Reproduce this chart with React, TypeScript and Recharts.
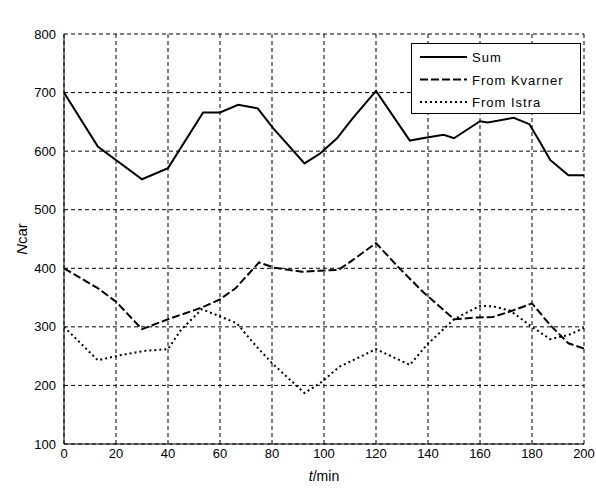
import React from "react";
import { LineChart, Line, XAxis, YAxis, CartesianGrid, Legend } from "recharts";

const FONT = '"Liberation Sans", Arial, Helvetica, sans-serif';

const xTicks = [0, 20, 40, 60, 80, 100, 120, 140, 160, 180, 200];
const yTicks = [100, 200, 300, 400, 500, 600, 700, 800];

// t/min values where each line bends
const sumTime = [0, 13, 30, 40, 53.5, 60, 67, 74.5, 80.5, 92.5, 98.5, 105, 111, 120, 133, 139, 146, 150, 160, 163, 173, 179, 183, 187, 194, 200];
const sumValues = [700, 608, 552, 571, 666, 666, 679, 673, 639, 579, 596, 622, 656, 703, 618, 623, 628, 622, 651, 649, 657, 646, 616, 585, 559, 559];

const kvarnerTime = [0, 13, 20, 30, 40, 53, 60, 66, 75, 81, 91.5, 98.5, 105.5, 111, 120, 129, 138, 150, 159, 165, 171.5, 180, 187, 194, 200];
const kvarnerValues = [400, 366, 343, 296, 313, 333, 347, 366, 410, 401, 394, 396, 397, 414, 443, 400, 360, 313, 316, 317, 326, 340, 303, 272, 263];

const istraTime = [0, 13, 22, 31, 40, 45, 53, 60.5, 66.5, 73.5, 80, 92.5, 98.5, 106, 120, 133, 139.5, 150, 160, 165, 171.5, 180, 187, 194, 200];
const istraValues = [300, 243, 252, 259, 262, 295, 330, 317, 306, 269, 238, 187, 204, 232, 262, 235, 269, 313, 336, 335, 328, 300, 279, 286, 298];

const toPoints = (time: number[], values: number[]) => time.map((t, i) => ({ t, v: values[i] }));

const series = [
  { name: "Sum", data: toPoints(sumTime, sumValues), dash: undefined as string | undefined },
  { name: "From Kvarner", data: toPoints(kvarnerTime, kvarnerValues), dash: "8 3" },
  { name: "From Istra", data: toPoints(istraTime, istraValues), dash: "2 3" },
];

function LegendBox() {
  return (
    <div
      style={{
        width: 170,
        height: 71,
        boxSizing: "border-box",
        border: "1px solid #000",
        background: "#fff",
      }}
    >
      <svg width={168} height={69} style={{ display: "block" }}>
        {series.map((s, i) => {
          const y = 13 + i * 22.5;
          return (
            <g key={s.name}>
              <line x1={8} x2={55} y1={y} y2={y} stroke="#000" strokeWidth={2} strokeDasharray={s.dash} />
              <text x={60} y={y + 5} fontFamily={FONT} fontSize={13} letterSpacing={1} fill="#000">
                {s.name}
              </text>
            </g>
          );
        })}
      </svg>
    </div>
  );
}

const tickStyle = { fontFamily: FONT, fontSize: 13, fill: "#000" };

export default function App() {
  return (
    <div style={{ position: "absolute", left: 0, top: 0, width: 596, height: 488, background: "#fff" }}>
      <LineChart width={596} height={488} margin={{ top: 34, right: 12, bottom: 14, left: 8 }}>
        <CartesianGrid stroke="#000" strokeDasharray="4 3" strokeWidth={1} />
        <XAxis
          dataKey="t"
          type="number"
          domain={[0, 200]}
          ticks={xTicks}
          allowDataOverflow
          height={30}
          stroke="#000"
          tickLine={false}
          tickSize={2}
          tickMargin={3}
          tick={tickStyle}
          label={{
            content: (props: any) => {
              const vb = props.viewBox;
              return (
                <text x={vb.x + vb.width / 2} y={vb.y + 37} textAnchor="middle" fontFamily={FONT} fontSize={14} fill="#000">
                  <tspan fontStyle="italic">t</tspan>/min
                </text>
              );
            },
          }}
        />
        <XAxis
          xAxisId="top"
          orientation="top"
          type="number"
          domain={[0, 200]}
          height={0}
          tick={false}
          tickLine={false}
          stroke="#000"
          label={{
            content: (props: any) => {
              const vb = props.viewBox;
              return (
                <text x={vb.x + vb.width / 2 - 1} y={vb.y - 15} textAnchor="middle" fontFamily={FONT} fontSize={13} letterSpacing={1} fill="#000">
                  Number of vehicles per hour
                </text>
              );
            },
          }}
        />
        <YAxis
          type="number"
          domain={[100, 800]}
          ticks={yTicks}
          allowDataOverflow
          width={56}
          stroke="#000"
          tickLine={false}
          tickSize={4}
          tickMargin={4}
          tick={tickStyle}
          label={{
            content: (props: any) => {
              const vb = props.viewBox;
              const cx = vb.x + 13;
              const cy = vb.y + vb.height / 2;
              return (
                <text
                  x={cx}
                  y={cy}
                  transform={`rotate(-90 ${cx} ${cy})`}
                  textAnchor="middle"
                  dominantBaseline="central"
                  fontFamily={FONT}
                  fontSize={15}
                  fill="#000"
                >
                  <tspan fontStyle="italic">N</tspan>car
                </text>
              );
            },
          }}
        />
        <YAxis yAxisId="right" orientation="right" type="number" domain={[100, 800]} width={0} tick={false} tickLine={false} stroke="#000" />
        <Legend
          layout="horizontal"
          verticalAlign="middle"
          align="center"
          wrapperStyle={{ left: 411, top: 43, width: 170, height: 71 }}
          content={() => <LegendBox />}
        />
        {series.map((s) => (
          <Line
            key={s.name}
            data={s.data}
            dataKey="v"
            name={s.name}
            type="linear"
            stroke="#000"
            strokeWidth={2}
            strokeDasharray={s.dash}
            dot={false}
            activeDot={false}
            isAnimationActive={false}
          />
        ))}
      </LineChart>
    </div>
  );
}
